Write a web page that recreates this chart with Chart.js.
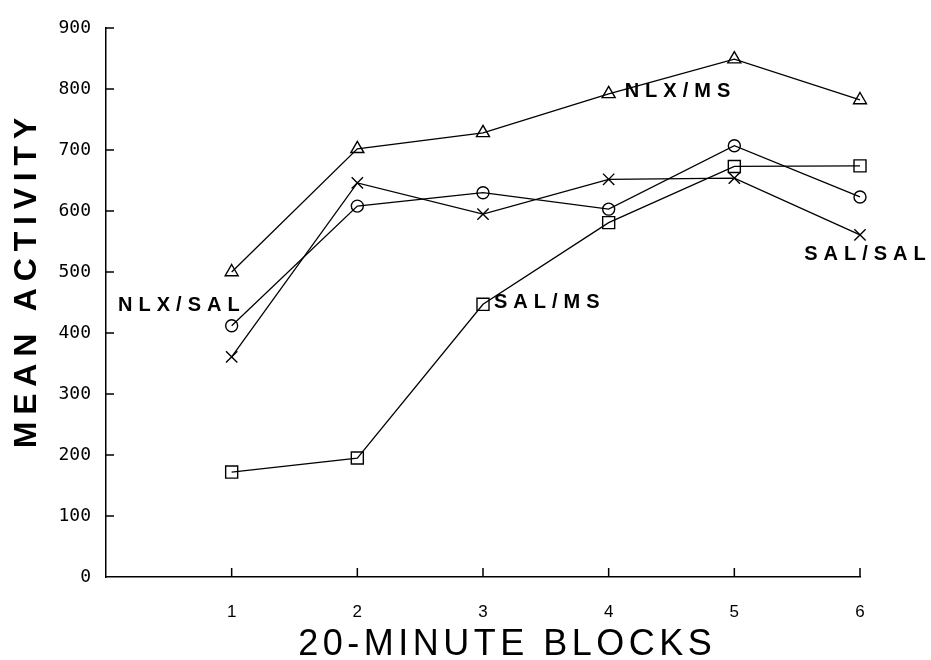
<!DOCTYPE html>
<html>
<head>
<meta charset="utf-8">
<script src="https://cdn.jsdelivr.net/npm/chart.js@4/dist/chart.umd.min.js"></script>
<style>
  html, body { margin: 0; padding: 0; background: #fff; }
</style>
</head>
<body>
<canvas id="activity-chart" width="931" height="660"></canvas>
<script>
// 20-minute blocks on the x axis
const blocks = [1, 2, 3, 4, 5, 6];
const yTicks = [0, 100, 200, 300, 400, 500, 600, 700, 800, 900];

// mean activity per group
const nlxMs = [500, 702, 728, 792, 849, 782];
const nlxSal = [412, 608, 630, 603, 707, 623];
const salSal = [361, 646, 595, 652, 654, 561];
const salMs = [172, 195, 447, 581, 673, 674];

const groupNames = ['NLX/MS', 'NLX/SAL', 'SAL/SAL', 'SAL/MS'];
const groupValues = [nlxMs, nlxSal, salSal, salMs];
const groupMarkers = ['triangle', 'circle', 'crossRot', 'rect'];
const markerSizes = [7.5, 6, 8, 8.5];

// where each group name sits next to one of its points
const labelSpots = [
  { index: 3, dx: 16, dy: -2, align: 'left' },
  { index: 0, dx: 8, dy: -20, align: 'right' },
  { index: 5, dx: 5, dy: 20, align: 'center' },
  { index: 2, dx: 11, dy: -2, align: 'left' },
];

const ink = '#000';

function spacedText(ctx, text, x, y, align, spacing) {
  ctx.letterSpacing = spacing + 'px';
  ctx.textAlign = align;
  let shift = 0;
  if (align === 'center') shift = spacing / 2;
  if (align === 'right') shift = spacing;
  ctx.fillText(text, x + shift, y);
  ctx.letterSpacing = '0px';
}

// short ticks pointing into the plot, as on the original
const tickMarks = {
  id: 'tickMarks',
  afterDraw(chart) {
    const { ctx, scales } = chart;
    const x = scales.x;
    const y = scales.y;
    ctx.save();
    ctx.strokeStyle = ink;
    ctx.lineWidth = 1.5;
    ctx.beginPath();
    yTicks.forEach((v) => {
      if (v === 0) return;
      const py = y.getPixelForValue(v);
      ctx.moveTo(y.right, py);
      ctx.lineTo(y.right + 8, py);
    });
    blocks.forEach((b) => {
      const px = x.getPixelForValue(b);
      ctx.moveTo(px, x.top);
      ctx.lineTo(px, x.top - 9);
    });
    ctx.stroke();
    ctx.restore();
  },
};

const textLabels = {
  id: 'textLabels',
  afterDraw(chart) {
    const { ctx, scales } = chart;
    ctx.save();
    ctx.fillStyle = ink;
    ctx.textBaseline = 'middle';

    ctx.font = 'bold 20px "Liberation Sans", Arial, sans-serif';
    labelSpots.forEach((spot, i) => {
      const px = scales.x.getPixelForValue(blocks[spot.index]);
      const py = scales.y.getPixelForValue(groupValues[i][spot.index]);
      spacedText(ctx, groupNames[i], px + spot.dx, py + spot.dy, spot.align, 6);
    });

    // axis titles
    ctx.font = '36px "Liberation Sans", Arial, sans-serif';
    spacedText(ctx, '20-MINUTE BLOCKS', 505, 645, 'center', 4.5);

    ctx.translate(27, 283);
    ctx.rotate(-Math.PI / 2);
    ctx.font = 'bold 32px "Liberation Sans", Arial, sans-serif';
    spacedText(ctx, 'MEAN ACTIVITY', 0, 0, 'center', 6.8);
    ctx.restore();
  },
};

const ctx = document.getElementById('activity-chart').getContext('2d');

new Chart(ctx, {
  type: 'line',
  data: {
    datasets: groupNames.map((name, i) => ({
      label: name,
      data: blocks.map((b, j) => ({ x: b, y: groupValues[i][j] })),
      borderColor: ink,
      borderWidth: 1.3,
      backgroundColor: '#fff',
      pointStyle: groupMarkers[i],
      pointRadius: markerSizes[i],
      pointBorderColor: ink,
      pointBackgroundColor: 'rgba(255,255,255,0)',
      pointBorderWidth: 1.4,
      tension: 0,
      clip: false,
    })),
  },
  options: {
    responsive: false,
    animation: false,
    layout: { padding: { top: 28, right: 71, left: 0, bottom: 0 } },
    plugins: {
      legend: { display: false },
      tooltip: { enabled: false },
    },
    scales: {
      x: {
        type: 'linear',
        min: 0,
        max: 6,
        afterFit: (scale) => { scale.height = 83; },
        afterBuildTicks: (scale) => { scale.ticks = blocks.map((b) => ({ value: b })); },
        grid: { drawOnChartArea: false, drawTicks: false },
        border: { display: true, color: ink, width: 1.5 },
        ticks: {
          color: ink,
          padding: 25,
          font: { family: '"Liberation Sans", Arial, sans-serif', size: 17 },
        },
      },
      y: {
        type: 'linear',
        min: 0,
        max: 900,
        afterFit: (scale) => { scale.width = 106; },
        afterBuildTicks: (scale) => { scale.ticks = yTicks.map((v) => ({ value: v })); },
        grid: { drawOnChartArea: false, drawTicks: false },
        border: { display: true, color: ink, width: 1.5 },
        ticks: {
          color: ink,
          padding: 15,
          font: { family: '"DejaVu Sans Mono", monospace', size: 18 },
        },
      },
    },
  },
  plugins: [tickMarks, textLabels],
});
</script>
</body>
</html>
